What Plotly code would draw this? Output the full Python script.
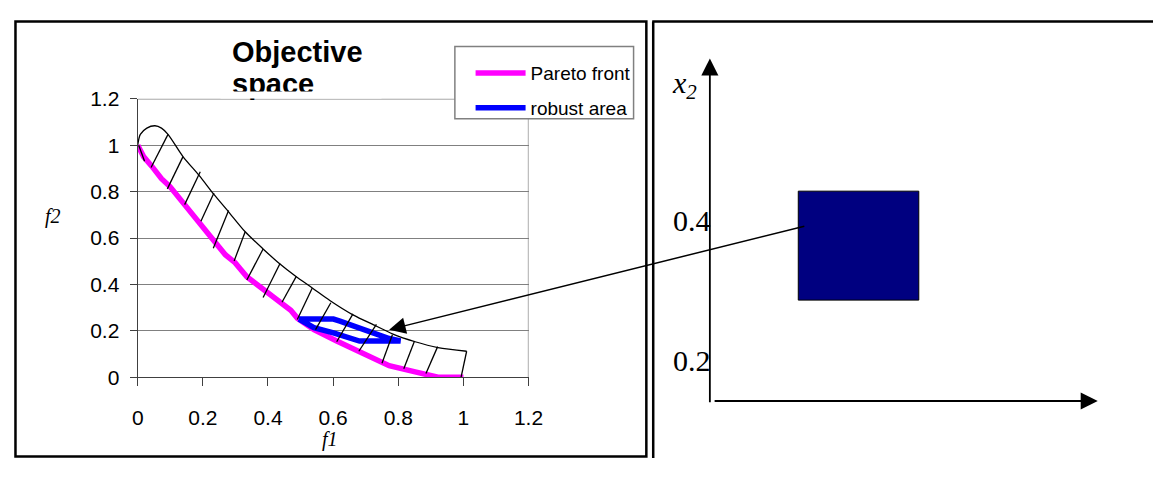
import plotly.graph_objects as go

# The page adds an 8 px body margin, so the figure is drawn 16 px smaller and every
# reference (screen) pixel position is converted to figure space below.
OFF_X, OFF_Y = 8, 8
WF, HF = 1176 - 2 * OFF_X, 477 - 2 * OFF_Y

# ---------------- Objective space data ----------------
pareto_f1 = [0, 0.018, 0.043, 0.073, 0.099, 0.144, 0.189, 0.229, 0.269, 0.299, 0.335,
             0.385, 0.435, 0.47, 0.49, 0.541, 0.611, 0.681, 0.772, 0.852, 0.922, 1.0]
pareto_f2 = [1.0, 0.951, 0.91, 0.856, 0.822, 0.747, 0.672, 0.597, 0.528, 0.494, 0.433,
             0.378, 0.33, 0.289, 0.255, 0.205, 0.156, 0.112, 0.05, 0.023, 0.0, 0.0]

envelope_f1 = [0, 0.008, 0.028, 0.053, 0.073, 0.093, 0.139, 0.189, 0.234, 0.279, 0.330,
               0.385, 0.435, 0.485, 0.536, 0.591, 0.661, 0.732, 0.782, 0.852, 0.922, 1.01]
envelope_f2 = [1.0, 1.047, 1.074, 1.084, 1.074, 1.047, 0.951, 0.869, 0.788, 0.713, 0.627,
               0.553, 0.49, 0.435, 0.385, 0.330, 0.269, 0.221, 0.187, 0.153, 0.128, 0.112]

hatch_low_f1 = [0.021, 0.041, 0.091, 0.144, 0.194, 0.232, 0.296, 0.335, 0.385, 0.443,
                0.490, 0.546, 0.611, 0.679, 0.750, 0.817, 0.885, 0.993]
hatch_low_f2 = [0.931, 0.904, 0.812, 0.744, 0.672, 0.556, 0.501, 0.419, 0.344, 0.323,
                0.249, 0.205, 0.153, 0.112, 0.060, 0.037, 0.016, 0.0]
hatch_high_f1 = [0.003, 0.093, 0.139, 0.192, 0.234, 0.279, 0.330, 0.385, 0.437, 0.487,
                 0.536, 0.593, 0.661, 0.733, 0.782, 0.850, 0.921, 1.01]
hatch_high_f2 = [1.0, 1.047, 0.951, 0.886, 0.794, 0.719, 0.627, 0.553, 0.490, 0.435,
                 0.385, 0.321, 0.273, 0.228, 0.183, 0.156, 0.132, 0.112]

robust_f1 = [0.495, 0.601, 0.621, 0.702, 0.772, 0.807, 0.681, 0.601, 0.541, 0.495]
robust_f2 = [0.251, 0.251, 0.242, 0.201, 0.167, 0.156, 0.156, 0.191, 0.214, 0.251]

f_ticks = [0, 0.2, 0.4, 0.6, 0.8, 1, 1.2]
arrow_head_f = (0.772, 0.205)

# ---------------- Decision space data ----------------
x2_ticks = [0.2, 0.4]
box_x1 = [0.258, 0.425]
box_x2 = [0.286, 0.442]
v_axis = (0.1355, 0.1375, 0.632)      # x, y from, y to
h_axis = (0.1415, 0.140, 0.673)       # y, x from, x to
arrow_tail_x2 = 0.385

# ---------------- layout geometry (screen pixels -> paper) ----------------
def px(x):
    return (x - OFF_X) / WF

def py(y):
    return 1 - (y - OFF_Y) / HF

L_DOM_X = [px(134), px(532)]
L_DOM_Y = [py(384), py(91)]
# right panel scale: 735 px per unit, x value 0.057 at screen x 659, y value 0.698 at screen y 0
R_SCALE = 735.0
R_DOM_X = [px(659), 1.0]
R_RANGE_X = [0.057, 0.057 + (OFF_X + WF - 659) / R_SCALE]
R_RANGE_Y = [0.698 - (OFF_Y + HF) / R_SCALE, 0.698 - OFF_Y / R_SCALE]

fig = go.Figure()

fig.add_trace(go.Scatter(x=pareto_f1, y=pareto_f2, mode="lines", name="Pareto front",
                         line=dict(color="#FF00FF", width=5.5), legendgroup="a",
                         xaxis="x", yaxis="y"))
fig.add_trace(go.Scatter(x=robust_f1, y=robust_f2, mode="lines", name="robust area",
                         line=dict(color="#0000FF", width=5.5), legendgroup="b",
                         xaxis="x", yaxis="y"))
fig.add_trace(go.Scatter(x=envelope_f1, y=envelope_f2, mode="lines", showlegend=False,
                         line=dict(color="black", width=1.3, shape="spline", smoothing=0.8),
                         xaxis="x", yaxis="y"))
hx, hy = [], []
for a, b, c, d in zip(hatch_low_f1, hatch_low_f2, hatch_high_f1, hatch_high_f2):
    hx += [a, c, None]
    hy += [b, d, None]
fig.add_trace(go.Scatter(x=hx, y=hy, mode="lines", showlegend=False,
                         line=dict(color="black", width=1.3), xaxis="x", yaxis="y"))

# decision-space box (as a filled trace)
fig.add_trace(go.Scatter(x=[box_x1[0], box_x1[1], box_x1[1], box_x1[0], box_x1[0]],
                         y=[box_x2[0], box_x2[0], box_x2[1], box_x2[1], box_x2[0]],
                         mode="lines", fill="toself", fillcolor="#000080",
                         line=dict(color="black", width=1), showlegend=False,
                         xaxis="x2", yaxis="y2"))

axis_font = dict(family="Liberation Sans, Arial", size=21, color="black")
fig.update_layout(
    width=WF, height=HF, margin=dict(l=0, r=0, t=0, b=0),
    paper_bgcolor="white", plot_bgcolor="white",
    showlegend=True,
    legend=dict(x=px(473), y=py(44), xanchor="left", yanchor="top",
                bgcolor="rgba(0,0,0,0)", borderwidth=0,
                font=dict(family="Liberation Sans, Arial", size=19, color="black"),
                tracegroupgap=7, itemwidth=50),
    xaxis=dict(domain=L_DOM_X, range=[0, 1.2], tickvals=f_ticks, showgrid=False,
               zeroline=False, showline=True, linecolor="#404040", linewidth=1.3,
               ticks="outside", ticklen=8, tickcolor="#404040", tickwidth=1.3,
               tickfont=axis_font, ticklabelstandoff=13, anchor="y"),
    yaxis=dict(domain=L_DOM_Y, range=[0, 1.2], tickvals=f_ticks, showgrid=True,
               gridcolor="#808080", gridwidth=1.3, zeroline=False, showline=True,
               linecolor="#404040", linewidth=1.3, ticks="outside", ticklen=7,
               tickcolor="#404040", tickwidth=1.3, tickfont=axis_font,
               ticklabelstandoff=6, anchor="x"),
    xaxis2=dict(domain=R_DOM_X, range=R_RANGE_X, visible=False, anchor="y2"),
    yaxis2=dict(domain=[0, 1], range=R_RANGE_Y, visible=False, anchor="x2"),
)

shapes = []
# plot area right/top border
shapes.append(dict(type="line", xref="x", yref="y", x0=1.2, x1=1.2, y0=0, y1=1.2,
                   line=dict(color="#808080", width=1.3)))
shapes.append(dict(type="line", xref="x", yref="y", x0=0, x1=1.2, y0=1.2, y1=1.2,
                   line=dict(color="#808080", width=1.3)))
# legend box
shapes.append(dict(type="rect", xref="paper", yref="paper", x0=px(457), x1=px(639),
                   y0=py(112), y1=py(36), fillcolor="white",
                   line=dict(color="#808080", width=1.5), layer="above"))
# frames (kept inside the drawable area)
top = max(6, OFF_Y + 1.5)
bottom = min(474, OFF_Y + HF - 1.5)
left = max(8, OFF_X + 1.5)
shapes.append(dict(type="rect", xref="paper", yref="paper", x0=px(left), x1=px(652),
                   y0=py(bottom), y1=py(top), line=dict(color="black", width=2.5)))
shapes.append(dict(type="line", xref="paper", yref="paper", x0=px(659), x1=px(659),
                   y0=0, y1=py(top), line=dict(color="black", width=2.5)))
shapes.append(dict(type="line", xref="paper", yref="paper", x0=px(658), x1=1.0,
                   y0=py(top), y1=py(top), line=dict(color="black", width=2.5)))
fig.update_layout(shapes=shapes)

# pixel positions (screen) used for the arrow from the box to the objective space
def x2_to_px(v):
    return 659 + (v - R_RANGE_X[0]) * R_SCALE

def y2_to_py(v):
    return (0.698 - v) * R_SCALE

def x_to_px(v):
    return 134 + v / 1.2 * (532 - 134)

def y_to_py(v):
    return 384 - v / 1.2 * (384 - 91)

tail_px = x2_to_px(box_x1[0])
tail_py = y2_to_py(arrow_tail_x2)
head_px = x_to_px(arrow_head_f[0])
head_py = y_to_py(arrow_head_f[1])

title_font = dict(family="Liberation Sans, Arial", size=29, color="black")
serif = "Liberation Serif, Times New Roman"
ann = [
    dict(text="<b>Objective</b>", xref="paper", yref="paper", x=px(228), y=py(42),
         xanchor="left", yanchor="middle", showarrow=False, font=title_font),
    dict(text="<b>space</b>", xref="paper", yref="paper", x=px(228), y=py(75),
         xanchor="left", yanchor="middle", showarrow=False, font=title_font),
    dict(text=" ", xref="paper", yref="paper", x=px(300), y=py(87.2),
         xanchor="center", yanchor="middle", showarrow=False, width=160, height=6,
         bgcolor="white", borderpad=0, font=dict(size=1)),
    dict(text="<i>f2</i>", xref="paper", yref="paper", x=px(48), y=py(215),
         xanchor="center", yanchor="middle", showarrow=False,
         font=dict(family=serif, size=20, color="black")),
    dict(text="<i>f1</i>", xref="paper", yref="paper", x=px(330), y=py(450),
         xanchor="center", yanchor="middle", showarrow=False,
         font=dict(family=serif, size=20, color="black")),
    # arrow from decision-space box to objective space
    dict(text="", xref="x", yref="y", x=arrow_head_f[0], y=arrow_head_f[1],
         axref="pixel", ayref="pixel", ax=tail_px - head_px, ay=tail_py - head_py,
         showarrow=True, arrowhead=2, arrowsize=2.2, arrowwidth=1.5, arrowcolor="black",
         standoff=0),
    # decision-space axes
    dict(text="", xref="x2", yref="y2", x=v_axis[0], y=v_axis[2], axref="x2", ayref="y2",
         ax=v_axis[0], ay=v_axis[1], showarrow=True, arrowhead=2, arrowsize=1.9,
         arrowwidth=1.8, arrowcolor="black", standoff=0),
    dict(text="", xref="x2", yref="y2", x=h_axis[2], y=h_axis[0], axref="x2", ayref="y2",
         ax=h_axis[1], ay=h_axis[0], showarrow=True, arrowhead=2, arrowsize=1.9,
         arrowwidth=1.8, arrowcolor="black", standoff=0),
    dict(text="<i>x<sub>2</sub></i>", xref="x2", yref="y2", x=0.1005, y=0.5946,
         xanchor="center", yanchor="middle", showarrow=False,
         font=dict(family=serif, size=30, color="black")),
]
for t in x2_ticks:
    ann.append(dict(text=f"{t:g}", xref="x2", yref="y2", x=v_axis[0], y=t,
                    xanchor="right", yanchor="middle", xshift=3, showarrow=False,
                    font=dict(family=serif, size=30, color="black")))
fig.update_layout(annotations=ann)

fig.write_html("out.html", config={"displayModeBar": False})
